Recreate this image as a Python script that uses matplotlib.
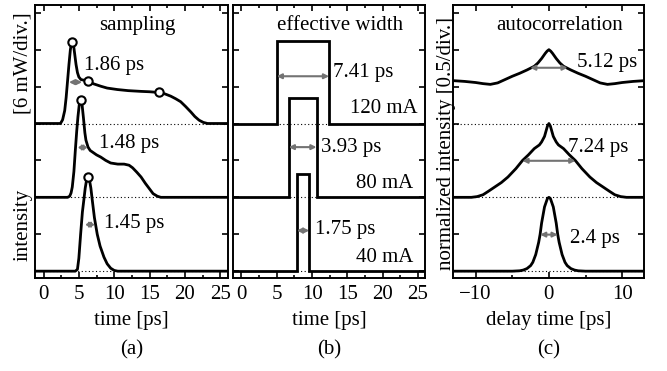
import matplotlib
matplotlib.use("Agg")
import matplotlib.pyplot as plt
from matplotlib.ticker import MultipleLocator

plt.rcParams["font.family"] = ["Liberation Serif", "DejaVu Serif"]
plt.rcParams["font.size"] = 15
plt.rcParams["axes.unicode_minus"] = True
plt.rcParams["lines.solid_joinstyle"] = "round"

# (a) sampling traces, offsets 0 / 2 / 4 div
t_40 = [-1.2, 4.5, 4.8, 5.0, 5.25, 5.5, 5.7, 5.9, 6.1, 6.3, 6.5, 6.7, 6.9, 7.2, 7.6, 8.0,
        8.55, 9.0, 9.5, 10.0, 10.5, 26.0]
p_40 = [0.0, 0.0, 0.05, 0.35, 1.0, 1.6, 1.92, 2.25, 2.48, 2.54, 2.47, 2.25, 1.92, 1.45, 1.0, 0.68,
        0.38, 0.2, 0.08, 0.02, 0.0, 0.0]
t_80 = [-1.2, 3.4, 3.7, 3.9, 4.07, 4.3, 4.5, 4.7, 4.87, 5.05, 5.25, 5.45, 5.65, 5.85, 6.0, 6.3,
        6.6, 6.9, 7.5, 8.1, 8.8, 9.5, 10.5, 11.4, 12.1, 12.6, 13.2, 13.8, 14.4, 14.95, 15.5,
        16.1, 16.6, 26.0]
p_80 = [2.0, 2.0, 2.03, 2.12, 2.28, 2.7, 3.27, 3.8, 4.18, 4.5, 4.65, 4.52, 4.15, 3.75, 3.55, 3.36,
        3.27, 3.23, 3.15, 3.09, 3.0, 2.93, 2.9, 2.9, 2.87, 2.8, 2.68, 2.55, 2.38, 2.24, 2.1,
        2.03, 2.0, 2.0]
t_120 = [-1.2, 2.4, 2.7, 3.0, 3.2, 3.4, 3.6, 3.8, 3.95, 4.1, 4.25, 4.4, 4.6, 4.8, 5.0, 5.3,
         5.8, 6.34, 7.0, 8.1, 9.0, 10.45, 12.0, 13.8, 15.0, 16.35, 17.2, 18.0, 18.7, 19.4,
         20.1, 20.85, 21.4, 22.0, 22.6, 23.2, 26.0]
p_120 = [4.0, 4.0, 4.1, 4.35, 4.7, 5.15, 5.6, 6.0, 6.17, 6.2, 6.12, 5.9, 5.6, 5.38, 5.26, 5.19,
         5.17, 5.16, 5.08, 5.01, 4.96, 4.92, 4.89, 4.87, 4.86, 4.84, 4.8, 4.74, 4.67, 4.59,
         4.46, 4.31, 4.19, 4.09, 4.03, 4.0, 4.0]
peak_t = [4.1, 6.34, 16.35, 5.25, 6.3]
peak_p = [6.2, 5.16, 4.84, 4.65, 2.54]
fwhm_a = [1.86, 1.48, 1.45]
fwhm_a_start = [3.6, 4.8, 5.85]
fwhm_a_y = [5.12, 3.35, 1.26]

# (b) effective width rectangles
currents = ["120 mA", "80 mA", "40 mA"]
rect_start = [5.0, 6.7, 7.85]
rect_width = [7.41, 3.93, 1.75]
rect_height = [2.24, 2.69, 2.62]
rect_base = [4, 2, 0]
fwhm_b_y = [5.28, 3.36, 1.1]

# (c) autocorrelation traces
tau_40 = [-13, -5, -4, -3.5, -3, -2.5, -2.2, -1.8, -1.4, -1.2, -1.0, -0.6, -0.2, 0,
          0.2, 0.6, 1.0, 1.2, 1.4, 1.8, 2.2, 2.5, 3, 3.5, 4, 5, 13]
ac_40 = [0, 0, 0.01, 0.03, 0.07, 0.15, 0.24, 0.45, 0.78, 1.0, 1.3, 1.74, 1.97, 2.0,
         1.97, 1.74, 1.3, 1.0, 0.78, 0.45, 0.24, 0.15, 0.07, 0.03, 0.01, 0, 0]
tau_80 = [-13, -10.6, -9.8, -9.0, -8.3, -7.4, -6.5, -5.6, -4.5, -3.6, -2.8, -2, -1.3, -1.0,
          -0.6, -0.2, 0, 0.2, 0.6, 1.0, 1.3, 2, 2.8, 3.6, 4.5, 5.6, 6.5, 7.4, 8.3, 9.0, 9.8,
          10.6, 13]
ac_80 = [2.0, 2.0, 2.02, 2.07, 2.16, 2.28, 2.4, 2.55, 2.78, 3.0, 3.15, 3.32, 3.42, 3.5,
         3.65, 3.93, 4.0, 3.93, 3.65, 3.5, 3.42, 3.32, 3.15, 3.0, 2.78, 2.55, 2.4, 2.28, 2.16,
         2.07, 2.02, 2.0, 2.0]
tau_120 = [-13, -11.5, -10, -9, -8, -7, -6, -5, -4, -3, -2.5, -2, -1.5, -1, -0.5, -0.25, 0,
           0.25, 0.5, 1, 1.5, 2, 2.5, 3, 4, 5, 6, 7, 8, 9, 10, 11.5, 13]
ac_120 = [5.16, 5.14, 5.11, 5.08, 5.06, 5.1, 5.19, 5.28, 5.36, 5.45, 5.5, 5.55, 5.64, 5.76,
          5.9, 5.96, 6.0, 5.96, 5.9, 5.76, 5.64, 5.55, 5.5, 5.45, 5.36, 5.28, 5.19, 5.1, 5.06,
          5.08, 5.11, 5.14, 5.16]
fwhm_c = [5.12, 7.24, 2.4]
fwhm_c_y = [5.51, 2.99, 0.99]

grey = "0.45"
lw = 2.0


def frame(ax, xlim, major, minor):
    ax.set_xlim(*xlim)
    ax.set_ylim(-0.185, 7.21)
    ax.xaxis.set_major_locator(MultipleLocator(major))
    ax.xaxis.set_minor_locator(MultipleLocator(minor))
    ax.yaxis.set_major_locator(MultipleLocator(1))
    ax.tick_params(which="both", direction="in", top=True, right=True, width=1.2)
    ax.tick_params(which="major", length=4)
    ax.tick_params(which="minor", length=2)
    ax.tick_params(axis="y", labelleft=False)
    ax.tick_params(axis="x", pad=5)
    for s in ax.spines.values():
        s.set_linewidth(1.4)
    for b in (0, 2, 4):
        ax.axhline(b, color="black", lw=0.8, ls=(0, (1, 2.2)), zorder=1)


def fwhm_arrow(ax, x0, x1, y):
    ax.annotate("", xy=(x1, y), xytext=(x0, y),
                arrowprops=dict(arrowstyle="<|-|>", color=grey, lw=1.5,
                                mutation_scale=7, shrinkA=0, shrinkB=0), zorder=4)


fig = plt.figure(figsize=(6.67, 3.71), dpi=100)
ax_a = fig.add_axes([0.0525, 0.2507, 0.2894, 0.7358])
ax_b = fig.add_axes([0.3493, 0.2507, 0.2879, 0.7358])
ax_c = fig.add_axes([0.6792, 0.2507, 0.2864, 0.7358])

# (a)
frame(ax_a, (-1.2, 26.1), 5, 2.5)
for t, p in [(t_120, p_120), (t_80, p_80), (t_40, p_40)]:
    ax_a.plot(t, p, color="black", lw=lw, zorder=3)
ax_a.plot(peak_t, peak_p, "o", ms=6, mfc="white", mec="black", mew=1.5, zorder=5)
for w, x0, y in zip(fwhm_a, fwhm_a_start, fwhm_a_y):
    fwhm_arrow(ax_a, x0, x0 + w, y)
ax_a.text(5.7, 5.58, "1.86 ps", va="center", ha="left")
ax_a.text(7.8, 3.47, "1.48 ps", va="center", ha="left")
ax_a.text(8.5, 1.29, "1.45 ps", va="center", ha="left")
ax_a.text(0.53, 0.925, "sampling", transform=ax_a.transAxes, ha="center", va="center")
ax_a.set_xlabel("time [ps]", labelpad=5)

# (b)
frame(ax_b, (-1.2, 26.0), 5, 2.5)
for x0, w, h, b, y in zip(rect_start, rect_width, rect_height, rect_base, fwhm_b_y):
    xs = [-1.2, x0, x0, x0 + w, x0 + w, 26.0]
    ys = [b, b, b + h, b + h, b, b]
    ax_b.plot(xs, ys, color="black", lw=lw, zorder=3, solid_joinstyle="miter")
    fwhm_arrow(ax_b, x0, x0 + w, y)
ax_b.text(13.0, 5.39, "7.41 ps", va="center", ha="left")
ax_b.text(11.25, 3.36, "3.93 ps", va="center", ha="left")
ax_b.text(10.4, 1.13, "1.75 ps", va="center", ha="left")
for lab, x, y in zip(currents, [24.9, 24.3, 24.3], [4.41, 2.38, 0.37]):
    ax_b.text(x, y, lab, va="center", ha="right")
ax_b.text(0.557, 0.925, "effective width", transform=ax_b.transAxes, ha="center", va="center")
ax_b.set_xlabel("time [ps]", labelpad=5)

# (c)
frame(ax_c, (-13.1, 13.0), 10, 5)
for t, a in [(tau_120, ac_120), (tau_80, ac_80), (tau_40, ac_40)]:
    ax_c.plot(t, a, color="black", lw=lw, zorder=3)
for w, y in zip(fwhm_c, fwhm_c_y):
    fwhm_arrow(ax_c, -w / 2, w / 2, y)
ax_c.text(3.85, 5.64, "5.12 ps", va="center", ha="left")
ax_c.text(2.6, 3.36, "7.24 ps", va="center", ha="left")
ax_c.text(2.9, 0.89, "2.4 ps", va="center", ha="left")
ax_c.text(0.56, 0.925, "autocorrelation", transform=ax_c.transAxes, ha="center", va="center")
ax_c.set_xlabel("delay time [ps]", labelpad=5)

# axis labels and captions
fig.text(0.034, 0.83, "[6 mW/div.]", rotation=90, ha="center", va="center")
fig.text(0.034, 0.393, "intensity", rotation=90, ha="center", va="center")
fig.text(0.670, 0.612, "normalized intensity [0.5/div.]", rotation=90, ha="center", va="center")
for lab, ax in zip(["(a)", "(b)", "(c)"], [ax_a, ax_b, ax_c]):
    pos = ax.get_position()
    fig.text(pos.x0 + pos.width / 2, 0.057, lab, ha="center", va="center")

fig.savefig("out.png", dpi=100)
